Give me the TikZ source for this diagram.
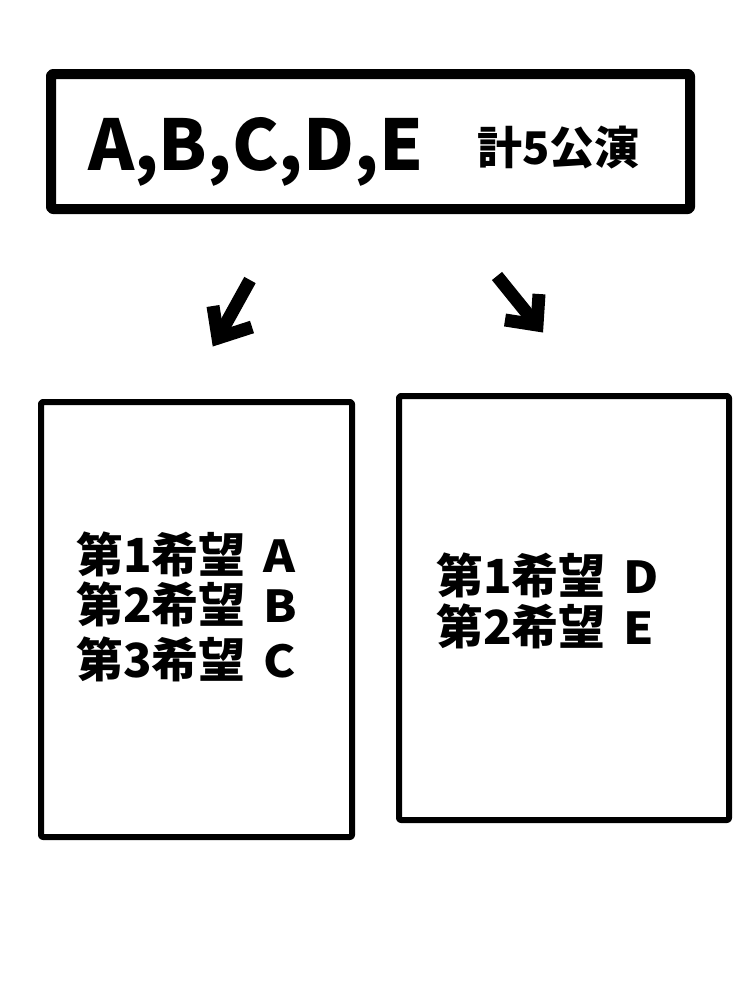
\documentclass[tikz,border=0pt]{standalone}
\usepackage{fontspec}
\newfontfamily\jp{Noto Sans CJK JP}
\newfontfamily\jpw{Noto Sans CJK JP}[FakeStretch=1.1]
\newcommand{\ltr}[1]{\hspace{18pt}{\jpw\bfseries\fontsize{44}{50}\selectfont #1}}
\begin{document}
\begin{tikzpicture}[x=1pt,y=-1pt,
  frame/.style={draw=black,line join=round,rounded corners=2pt},
  bigarrow/.style={draw=black,line width=13pt,line join=miter,line cap=butt},
  txt/.style={inner sep=0pt,anchor=base west,font=\jp\bfseries},
  wish/.style={txt,font=\jp\bfseries\fontsize{47}{53}\selectfont}]
\useasboundingbox (0,0) rectangle (749,999);
\fill[white] (0,0) rectangle (749,999);
% top box
\draw[frame,line width=10pt] (51,74) rectangle (690,209);
\node[txt,font=\jp\bfseries\fontsize{70}{80}\selectfont] (all) at (88,170) {A,B,C,D,E};
\node[txt,font=\jp\bfseries\fontsize{45}{50}\selectfont] (total) at (477,164) {計5公演};
% left and right boxes
\draw[frame,line width=6pt] (41,402) rectangle (352,837);
\draw[frame,line width=6pt] (399,396) rectangle (729,820);
\node[wish] (lt1) at (76,572) {第1希望\ltr{A}};
\node[wish] (lt2) at (76,622) {第2希望\ltr{B}};
\node[wish] (lt3) at (76,677) {第3希望\ltr{C}};
\node[wish] (rt1) at (436,593) {第1希望\ltr{D}};
\node[wish] (rt2) at (436,644) {第2希望\ltr{E}};
% arrows
\coordinate (la0) at (250,280);
\coordinate (la1) at (219,336);
\coordinate (lh1) at (213,306);
\coordinate (lh2) at (252,327);
\draw[bigarrow] (la0) -- (la1);
\draw[bigarrow] (lh1) -- (218,338) -- (lh2);
\coordinate (ra0) at (497,276);
\coordinate (ra1) at (535,323);
\coordinate (rh1) at (539,294);
\coordinate (rh2) at (505,320);
\draw[bigarrow] (ra0) -- (ra1);
\draw[bigarrow] (rh1) -- (537,325) -- (rh2);
\end{tikzpicture}
\end{document}
